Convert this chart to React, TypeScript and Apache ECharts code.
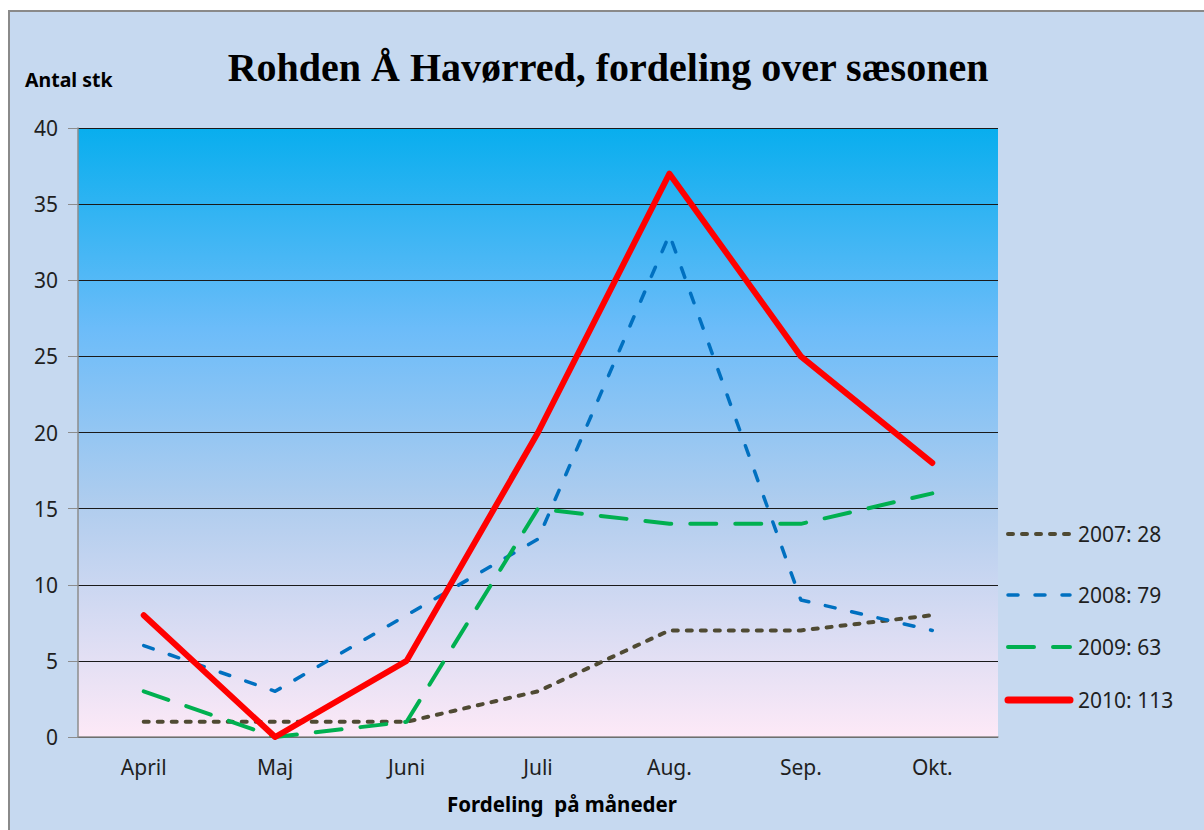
import React, { useEffect, useRef } from "react";
import * as echarts from "echarts";

const categories = ["April", "Maj", "Juni", "Juli", "Aug.", "Sep.", "Okt."];
const s2007 = [1, 1, 1, 3, 7, 7, 8];
const s2008 = [6, 3, 8, 13, 33, 9, 7];
const s2009 = [3, 0, 1, 15, 14, 14, 16];
const s2010 = [8, 0, 5, 20, 37, 25, 18];
const seriesNames = ["2007: 28", "2008: 79", "2009: 63", "2010: 113"];
const titleText = "Rohden Å Havørred, fordeling over sæsonen";
const yName = "Antal stk";
const xName = "Fordeling  på måneder";

const FONT = "'Noto Sans', 'Open Sans', sans-serif";

const colors = ["#4f4a33", "#0070c0", "#00b050", "#ff0000"];
const widths = [4, 3.5, 4, 6];
const dashes: (number[] | null)[] = [[5, 9], [10, 17], [26, 19], null];
const legendY = [534, 595, 647, 700];

export default function App() {
  const ref = useRef<HTMLDivElement>(null);
  useEffect(() => {
    document.body.style.margin = "0";
    const chart = echarts.init(ref.current!, null, { renderer: "svg" });
    const grad = new echarts.graphic.LinearGradient(0, 0, 0, 1, [
      { offset: 0, color: "#08aeee" },
      { offset: 0.33, color: "#6cbcf9" },
      { offset: 0.62, color: "#b0cdee" },
      { offset: 1, color: "#fde9f7" },
    ]);
    const legendGraphics: any[] = [];
    seriesNames.forEach((name, i) => {
      legendGraphics.push({
        type: "line",
        shape: { x1: 1008, y1: legendY[i], x2: 1070, y2: legendY[i] },
        style: {
          stroke: colors[i],
          lineWidth: widths[i] + (i === 3 ? 1 : 0),
          lineDash: dashes[i] || undefined,
          lineCap: "round",
        },
      });
      legendGraphics.push({
        type: "text",
        x: 1078,
        y: legendY[i],
        style: {
          text: name,
          font: "21px " + FONT,
          fill: "#1f1f1f",
          align: "left",
          verticalAlign: "middle",
        },
      });
    });
    const mk = (i: number, data: number[]) => ({
      name: seriesNames[i],
      type: "line",
      data,
      symbol: "none",
      lineStyle: {
        color: colors[i],
        width: widths[i],
        type: dashes[i] || "solid",
        cap: "round",
        join: "round",
      },
      itemStyle: { color: colors[i] },
      z: 2 + i,
    });
    chart.setOption({
      animation: false,
      backgroundColor: "#ffffff",
      graphic: [
        {
          type: "rect",
          shape: { x: 9, y: 11, width: 1200, height: 830 },
          style: { fill: "#c6d9f0", stroke: "#8a8a8a", lineWidth: 2 },
          z: -10,
        },
        {
          type: "text",
          x: 608,
          y: 67,
          style: {
            text: titleText,
            font: "bold 40px 'Liberation Serif', 'DejaVu Serif', serif",
            fill: "#000",
            align: "center",
            verticalAlign: "middle",
          },
        },
        {
          type: "text",
          x: 25,
          y: 79,
          style: {
            text: yName,
            font: "bold 19.5px " + FONT,
            fill: "#000",
            align: "left",
            verticalAlign: "middle",
          },
        },
        {
          type: "text",
          x: 562,
          y: 804,
          style: {
            text: xName,
            font: "bold 20.5px " + FONT,
            fill: "#000",
            align: "center",
            verticalAlign: "middle",
          },
        },
        ...legendGraphics,
      ],
      grid: {
        left: 78,
        right: 206,
        top: 128,
        bottom: 93,
        show: true,
        backgroundColor: grad,
        borderWidth: 0,
      },
      xAxis: {
        type: "category",
        data: categories,
        boundaryGap: true,
        axisLine: { show: true, lineStyle: { color: "#8c8c8c", width: 1.5 } },
        axisTick: { show: false },
        axisLabel: { fontSize: 21, color: "#1f1f1f", fontFamily: FONT, margin: 19 },
        splitLine: { show: false },
      },
      yAxis: {
        type: "value",
        min: 0,
        max: 40,
        interval: 5,
        axisLine: { show: true, lineStyle: { color: "#8c8c8c", width: 1.5 } },
        axisTick: { show: true, length: 10, lineStyle: { color: "#8c8c8c" } },
        axisLabel: { fontSize: 21, color: "#1f1f1f", fontFamily: FONT, margin: 20 },
        splitLine: { show: true, lineStyle: { color: "#1a1a1a", width: 1 } },
      },
      series: [mk(0, s2007), mk(1, s2008), mk(2, s2009), mk(3, s2010)],
    });
    return () => chart.dispose();
  }, []);
  return <div ref={ref} style={{ width: 1204, height: 830, overflow: "hidden" }} />;
}
